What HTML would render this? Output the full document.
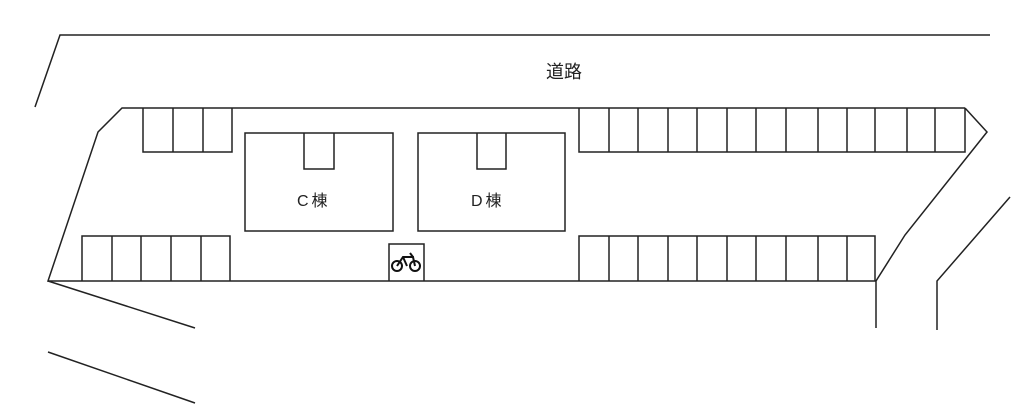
<!DOCTYPE html>
<html><head><meta charset="utf-8"><style>
html,body{margin:0;padding:0;background:#fff;width:1024px;height:410px;overflow:hidden}
text{font-family:"Liberation Sans","Noto Sans CJK JP",sans-serif;fill:#222}
</style></head><body>
<svg width="1024" height="410" viewBox="0 0 1024 410" xmlns="http://www.w3.org/2000/svg">
<g stroke="#222" stroke-width="1.5" fill="none">
<polyline points="35,107 60,35 990,35"/>
<polyline points="965,108 122,108 98,132 48,281 876,281"/>
<polyline points="965,108 987,132 905,235 876,281 876,328"/>
<polyline points="937,330 937,281 1010,197"/>
<line x1="48" y1="281" x2="195" y2="328"/>
<line x1="48" y1="352" x2="195" y2="403"/>
<polyline points="143,108 143,152 232,152 232,108"/>
<line x1="173" y1="108" x2="173" y2="152"/><line x1="203" y1="108" x2="203" y2="152"/>
<polyline points="82,281 82,236 230,236 230,281"/>
<line x1="112" y1="236" x2="112" y2="281"/><line x1="141" y1="236" x2="141" y2="281"/>
<line x1="171" y1="236" x2="171" y2="281"/><line x1="201" y1="236" x2="201" y2="281"/>
<rect x="245" y="133" width="148" height="98"/>
<polyline points="304,133 304,169 334,169 334,133"/>
<rect x="418" y="133" width="147" height="98"/>
<polyline points="477,133 477,169 506,169 506,133"/>
<polyline points="389,281 389,244 424,244 424,281"/>
<polyline points="579,108 579,152 965,152 965,108"/>
<path d="M609 108V152M638 108V152M668 108V152M697 108V152M727 108V152M756 108V152M786 108V152M818 108V152M847 108V152M875 108V152M907 108V152M935 108V152"/>
<polyline points="579,281 579,236 875,236 875,281"/>
<path d="M609 236V281M638 236V281M668 236V281M697 236V281M727 236V281M756 236V281M786 236V281M818 236V281M847 236V281"/>
</g>
<g stroke="#111" stroke-width="2" fill="none">
<circle cx="397" cy="266" r="5"/><circle cx="415" cy="266" r="5"/>
<polyline points="397,266 403,257 413,257 415,266"/>
<line x1="403" y1="257" x2="407" y2="266"/><line x1="410" y1="253" x2="413" y2="257"/>
</g>
<text x="546" y="78" font-size="18">道路</text>
<text x="297" y="206" font-size="16" letter-spacing="3">C棟</text>
<text x="471" y="206" font-size="16" letter-spacing="3">D棟</text>
</svg>
</body></html>
